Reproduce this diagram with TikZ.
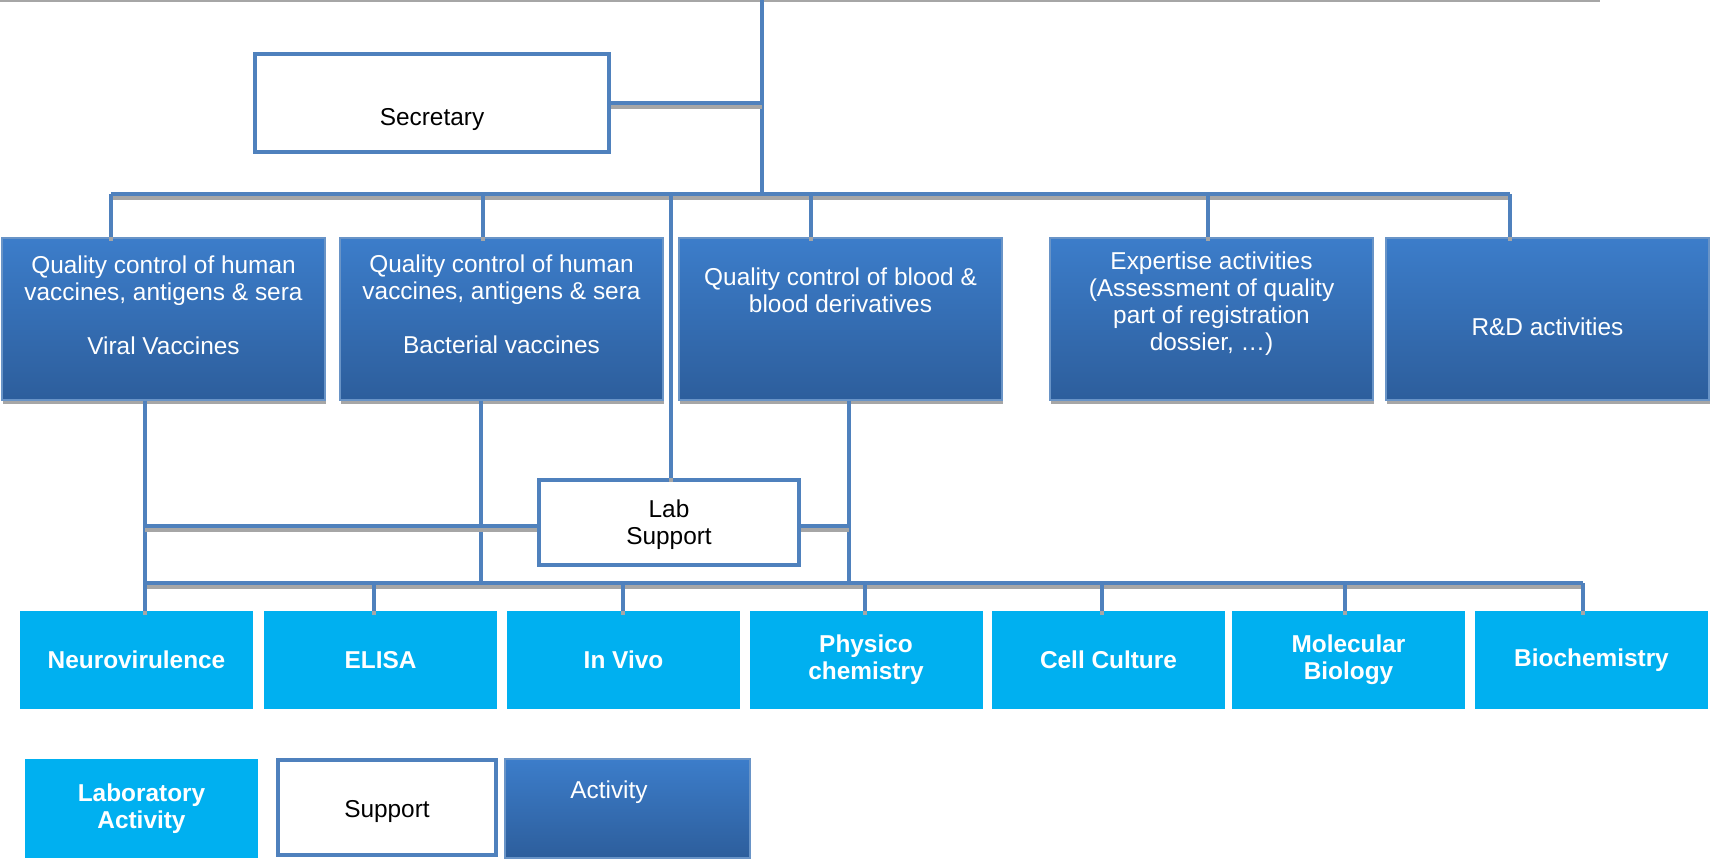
\documentclass[tikz,border=0pt]{standalone}
\usepackage{fontspec}
\setmainfont{Liberation Sans}
\usetikzlibrary{shadows}
\definecolor{linkblue}{RGB}{79,129,189}
\definecolor{deptop}{RGB}{60,125,202}
\definecolor{depbot}{RGB}{45,94,156}
\definecolor{labcyan}{RGB}{0,176,240}
\tikzset{conn/.style={draw=linkblue, line width=2pt, preaction={draw=black!35, line width=2pt, transform canvas={yshift=-2pt}}}}
\tikzset{dept/.style={rectangle, draw=linkblue!85, line width=0.6pt, top color=deptop, bottom color=depbot, minimum width=161.5pt, minimum height=81pt, drop shadow={shadow xshift=0.5pt, shadow yshift=-2pt, fill=black!35, opacity=1}}}
\tikzset{deptext/.style={text=white, align=center, font=\fontsize{12.2}{13.5}\selectfont}}
\tikzset{labbox/.style={rectangle, fill=labcyan, text=white, align=center, font=\fontsize{12.2}{13.5}\selectfont\bfseries, minimum width=116.5pt, minimum height=49pt}}
\tikzset{whitebox/.style={rectangle, draw=linkblue, line width=2pt, fill=white, align=center, font=\fontsize{12.2}{13.5}\selectfont}}

\begin{document}
\begin{tikzpicture}[x=0.5pt, y=-0.5pt]
\useasboundingbox (0,0) rectangle (1711,858);
% rule along the top edge
\draw[black!35, line width=1pt] (0,1) -- (1600,1);

% secretary and departments
\node[whitebox, minimum width=177pt, minimum height=49pt] (sec) at (432,103) {};
\node[deptext, text=black] (sectext) at ([yshift=-8.5pt]sec.center) {Secretary};
\node[dept] (viral) at (163.5,319) {};
\node[dept] (bact) at (501.5,319) {};
\node[dept] (blood) at (840.5,319) {};
\node[dept] (expert) at (1211.5,319) {};
\node[dept] (rd) at (1547.5,319) {};
\node[deptext] (viraltext) at ([yshift=6.75pt]viral.center) {Quality control of human\\vaccines, antigens \& sera\\[13.5pt]Viral Vaccines};
\node[deptext] (bacttext) at ([yshift=7.5pt]bact.center) {Quality control of human\\vaccines, antigens \& sera\\[13.5pt]Bacterial vaccines};
\node[deptext] (bloodtext) at ([yshift=14.5pt]blood.center) {Quality control of blood \&\\blood derivatives};
\node[deptext] (experttext) at ([yshift=7.5pt]expert.center) {Expertise activities\\(Assessment of quality\\part of registration\\dossier, …)};
\node[deptext] (rdtext) at ([yshift=-4pt]rd.center) {R\&D activities};

\node[whitebox, minimum width=130pt, minimum height=42.5pt] (labsup) at (669,522) {};
\node[deptext, text=black] (labtext) at ([yshift=-1.5pt]labsup.center) {Lab\\Support};

% laboratories
\foreach \n/\x/\t in {nv/136.5/Neurovirulence, elisa/380.5/ELISA, vivo/623.5/In Vivo, phys/866/{Physico\\chemistry}, cell/1108.5/Cell Culture, mol/1348.5/{Molecular\\Biology}, bio/1591.5/Biochemistry}
  \node[labbox] (\n) at (\x,660) {\t};

% connectors
\coordinate (top) at (762,0);
\coordinate (hub) at (762,194);
\coordinate (busL) at (111,194);
\coordinate (busR) at (1510,194);
\draw[conn] (top) -- (hub);
\draw[conn] (busL) -- (busR);
\draw[conn] (sec.east) -- (sec.east -| top);
\foreach \n/\x in {viral/111, bact/483, blood/811, expert/1208, rd/1510, labsup/671} {
  \coordinate (up\n) at (\x,194);
  \draw[conn] (up\n) -- (up\n |- \n.north);
}
\coordinate (lowL) at (145,583);
\coordinate (lowR) at (1583,583);
\foreach \n/\x in {viral/145, bact/481, blood/849} {
  \coordinate (dn\n) at (\x,583);
  \draw[conn] (dn\n |- \n.south) -- (dn\n);
}
\draw[conn] ([yshift=-2pt]labsup.west) -- ([yshift=-2pt]labsup.west -| dnviral);
\draw[conn] ([yshift=-2pt]labsup.east) -- ([yshift=-2pt]labsup.east -| dnblood);
\draw[conn] (lowL) -- (lowR);
\foreach \n/\x in {nv/145, elisa/374, vivo/623, phys/865, cell/1102, mol/1345, bio/1583} {
  \coordinate (tap\n) at (\x,583);
  \draw[conn] (tap\n) -- (tap\n |- \n.north);
}

% key
\node[labbox, minimum height=49.5pt] (keylab) at (141.5,808.5) {Laboratory\\Activity};
\node[whitebox, minimum width=109pt, minimum height=47.5pt] (keysup) at (387,807.5) {};
\node[deptext, text=black] (keysuptext) at ([yshift=-2pt]keysup.center) {Support};
\node[dept, minimum width=122.5pt, minimum height=49.5pt] (keyact) at (627.5,808.5) {};
\node[deptext] (keyacttext) at ([xshift=-9.25pt, yshift=8.25pt]keyact.center) {Activity};
\end{tikzpicture}
\end{document}
